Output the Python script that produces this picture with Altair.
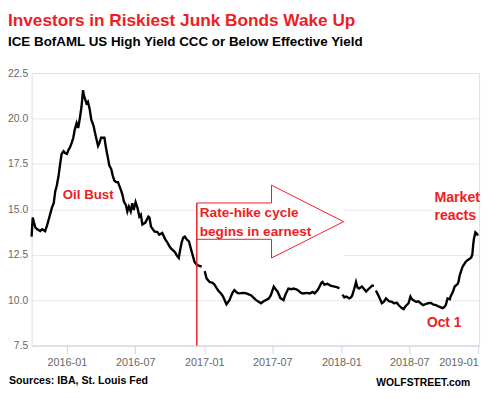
import altair as alt
import pandas as pd

# ---- data (ICE BofAML US HY CCC or Below Effective Yield, %) ----
dates = [
    "2015-09-29", "2015-10-02", "2015-10-05", "2015-10-09", "2015-10-14", "2015-10-22", "2015-10-27",
    "2015-11-04", "2015-11-09", "2015-11-17", "2015-11-22", "2015-11-27", "2015-12-01", "2015-12-05",
    "2015-12-10", "2015-12-14", "2015-12-18", "2015-12-23", "2015-12-27", "2016-01-01", "2016-01-06",
    "2016-01-09", "2016-01-14", "2016-01-18", "2016-01-22", "2016-01-27", "2016-01-31", "2016-02-04",
    "2016-02-09", "2016-02-13", "2016-02-15", "2016-02-18", "2016-02-22", "2016-02-26", "2016-03-02",
    "2016-03-06", "2016-03-12", "2016-03-15", "2016-03-20", "2016-03-24", "2016-03-28", "2016-04-01",
    "2016-04-10", "2016-04-14", "2016-04-19", "2016-04-23", "2016-04-28", "2016-05-02", "2016-05-06",
    "2016-05-11", "2016-05-16", "2016-05-19", "2016-05-24", "2016-05-28", "2016-06-01", "2016-06-06",
    "2016-06-10", "2016-06-14", "2016-06-19", "2016-06-23", "2016-06-27", "2016-07-02", "2016-07-07",
    "2016-07-12", "2016-07-16", "2016-07-20", "2016-07-28", "2016-08-05", "2016-08-08", "2016-08-12",
    "2016-08-21", "2016-08-29", "2016-09-03", "2016-09-11", "2016-09-19", "2016-09-24", "2016-10-02",
    "2016-10-07", "2016-10-15", "2016-10-20", "2016-10-25", "2016-10-29", "2016-11-02", "2016-11-06",
    "2016-11-10", "2016-11-15", "2016-11-21", "2016-11-28", "2016-12-06", "2016-12-12", "2016-12-17",
    "2016-12-25", "2016-12-30", "2017-01-02", "2017-01-07", "2017-01-15", "2017-01-23", "2017-01-28",
    "2017-02-07", "2017-02-15", "2017-02-20", "2017-03-01", "2017-03-09", "2017-03-17", "2017-03-22",
    "2017-03-30", "2017-04-04", "2017-04-15", "2017-04-23", "2017-05-01", "2017-05-06", "2017-05-14",
    "2017-05-19", "2017-05-27", "2017-06-01", "2017-06-09", "2017-06-14", "2017-06-22", "2017-06-27",
    "2017-07-01", "2017-07-05", "2017-07-10", "2017-07-15", "2017-07-23", "2017-07-28", "2017-07-31",
    "2017-08-05", "2017-08-13", "2017-08-21", "2017-08-26", "2017-09-03", "2017-09-08", "2017-09-16",
    "2017-09-21", "2017-10-01", "2017-10-09", "2017-10-17", "2017-10-22", "2017-10-30", "2017-11-04",
    "2017-11-09", "2017-11-12", "2017-11-17", "2017-11-25", "2017-12-03", "2017-12-14", "2017-12-22",
    "2017-12-27", "2017-12-29", "2018-01-04", "2018-01-09", "2018-01-14", "2018-01-22", "2018-01-27",
    "2018-01-30", "2018-02-04", "2018-02-09", "2018-02-13", "2018-02-17", "2018-02-25", "2018-03-03",
    "2018-03-08", "2018-03-16", "2018-03-24", "2018-03-29", "2018-03-31", "2018-04-03", "2018-04-11",
    "2018-04-19", "2018-04-24", "2018-04-30", "2018-05-08", "2018-05-16", "2018-05-21", "2018-05-29",
    "2018-06-03", "2018-06-11", "2018-06-16", "2018-06-21", "2018-06-29", "2018-07-04", "2018-07-08",
    "2018-07-12", "2018-07-20", "2018-07-25", "2018-08-02", "2018-08-07", "2018-08-15", "2018-08-20",
    "2018-08-28", "2018-09-02", "2018-09-10", "2018-09-15", "2018-09-23", "2018-09-28", "2018-10-02",
    "2018-10-06", "2018-10-11", "2018-10-17", "2018-10-19", "2018-10-24", "2018-10-30", "2018-11-07",
    "2018-11-09", "2018-11-12", "2018-11-16", "2018-11-20", "2018-11-28", "2018-12-03", "2018-12-08",
    "2018-12-13", "2018-12-16", "2018-12-18", "2018-12-20", "2018-12-24", "2018-12-28", "2018-12-31",
]
yields = [
    13.5, 14.55, 14.3, 14.0, 13.9, 13.8, 13.9,
    13.8, 14.1, 14.7, 15.08, 15.35, 16.0, 16.3,
    16.87, 17.5, 18.05, 18.2, 18.1, 18.05, 18.3,
    18.4, 18.67, 18.94, 19.39, 19.75, 19.48, 19.94,
    20.66, 21.56, 21.3, 21.1, 20.84, 20.93, 20.48,
    19.94, 19.6, 19.3, 18.85, 18.49, 18.67, 18.94,
    18.94, 18.4, 17.86, 17.41, 17.23, 16.87, 16.6,
    16.5, 16.5, 16.33, 16.06, 15.8, 15.42, 15.24,
    14.88, 15.15, 14.88, 15.33, 14.97, 15.4, 15.08,
    14.6, 14.7, 14.16, 14.27, 14.6, 14.54, 14.05,
    13.78, 13.75, 13.6, 13.7, 13.35, 13.2, 12.9,
    12.8, 12.64, 12.45, 12.32, 12.8, 13.2, 13.45,
    13.5, 13.35, 13.24, 12.7, 12.1, 11.95, 11.9,
    11.84, None, 11.6, 11.2, 11.0, 10.95, 10.86,
    10.53, 10.35, 10.2, 9.77, 10.0, 10.4, 10.55,
    10.4, 10.37, 10.4, 10.37, 10.3, 10.26, 10.1,
    10.0, 9.9, 9.83, 9.95, 10.0, 10.1, 10.26,
    10.5, 10.75, 10.6, 10.48, 10.1, 10.05, 10.0,
    10.3, 10.64, 10.6, 10.64, 10.6, 10.53, 10.4,
    10.37, 10.4, 10.37, 10.45, 10.37, 10.55, 10.75,
    10.95, 11.0, 10.85, 10.9, 10.8, 10.75, 10.7,
    10.64, None, 10.3, 10.15, 10.2, 10.1, 10.15,
    10.26, 10.6, 11.0, 10.7, 10.64, 10.75, 10.6,
    10.48, 10.64, 10.8, 10.8, None, 10.53, 10.2,
    9.83, 9.9, 10.1, 9.94, 9.9, 9.83, 9.85,
    9.72, 9.56, 9.5, 9.67, 9.83, 10.2, 10.05,
    10.0, 9.9, 9.94, 9.8, 9.72, 9.8, 9.83,
    9.85, 9.77, 9.72, 9.67, 9.6, 9.56, 9.62,
    9.72, 10.1, 10.05, 10.2, 10.4, 10.75, 10.9,
    11.0, 11.34, 11.6, 11.84, 12.1, 12.2, 12.26,
    12.35, 12.53, 13.0, 13.35, 13.73, 13.65, 13.55,
]

y_ticks = [7.5, 10.0, 12.5, 15.0, 17.5, 20.0, 22.5]
x_tick_years_months = [(2016, 1), (2016, 7), (2017, 1), (2017, 7), (2018, 1), (2018, 7), (2019, 1)]

# annotation arrow ("Rate-hike cycle begins in earnest")
arrow_dates = ["2016-12-12", "2017-06-29", "2017-06-29", "2018-01-07", "2017-06-29", "2017-06-29", "2016-12-12"]
arrow_vals = [15.35, 15.35, 16.33, 14.32, 12.32, 13.35, 13.35]
hike_date = "2016-12-12"
hike_top = 15.35

# white label backgrounds
bg_start = ["2016-12-12", "2018-08-28"]
bg_end = ["2018-01-07", "2019-01-03"]
bg_low = [12.32, 14.2]
bg_high = [16.33, 16.0]

ann_dates = ["2015-12-21", "2016-12-20", "2016-12-20", "2018-09-06", "2018-09-06", "2018-08-17"]
ann_vals = [15.57, 14.57, 13.54, 15.39, 14.43, 8.53]
ann_text = ["Oil Bust", "Rate-hike cycle", "begins in earnest", "Market", "reacts", "Oct 1"]
ann_size = [13.5, 13.8, 13.8, 14.4, 14.4, 14.0]

RED = "#ee1d23"
FONT = "Liberation Sans"

df = pd.DataFrame({"date": dates, "yield": yields})
arrow_df = pd.DataFrame({"date": arrow_dates, "yield": arrow_vals, "ord": list(range(len(arrow_dates)))})
rule_df = pd.DataFrame({"date": [hike_date], "top": [hike_top], "bottom": [7.5]})
bg_df = pd.DataFrame({"d1": bg_start, "d2": bg_end, "lo": bg_low, "hi": bg_high})
ann_df = pd.DataFrame({"date": ann_dates, "yield": ann_vals, "txt": ann_text, "fs": ann_size})

x_scale = alt.Scale(
    type="utc",
    domain=[alt.DateTime(year=2015, month=9, date=29, utc=True),
            alt.DateTime(year=2019, month=1, date=3, utc=True)],
)
y_scale = alt.Scale(domain=[7.5, 22.5], nice=False, zero=False)

x_axis = alt.Axis(
    values=[alt.DateTime(year=y, month=m, date=1, utc=True) for y, m in x_tick_years_months],
    labelExpr="utcFormat(datum.value, '%Y-%m')", title=None, grid=False,
    domainColor="#ccd6eb", tickColor="#ccd6eb", tickSize=8,
    labelColor="#666666", labelFontSize=11, labelFont=FONT, labelPadding=3,
)
y_axis = alt.Axis(
    values=y_ticks, format=".1f", title=None, domain=False, ticks=False,
    gridColor="#e6e6e6", labelColor="#666666", labelFontSize=10.5, labelFont=FONT,
    labelPadding=4,
)


def X(field):
    return alt.X(field, scale=x_scale, axis=x_axis)


def Y(field):
    return alt.Y(field, scale=y_scale, axis=y_axis)


line = alt.Chart(df).mark_line(color="black", strokeWidth=2.4).encode(
    x=X("date:T"), y=Y("yield:Q"),
)

bg = alt.Chart(bg_df).mark_rect(color="white").encode(
    x=X("d1:T"), x2="d2:T", y=Y("lo:Q"), y2="hi:Q",
)

arrow = alt.Chart(arrow_df).mark_line(color=RED, strokeWidth=1).encode(
    x=X("date:T"), y=Y("yield:Q"), order="ord:Q",
)

rule = alt.Chart(rule_df).mark_rule(color=RED, strokeWidth=1.5).encode(
    x=X("date:T"), y=Y("top:Q"), y2="bottom:Q",
)

ann = alt.Chart(ann_df).mark_text(
    color=RED, font=FONT, fontWeight="bold", align="left", baseline="alphabetic"
).encode(
    x=X("date:T"), y=Y("yield:Q"),
    text="txt:N", size=alt.Size("fs:Q", scale=None, legend=None),
)


def label(txt, x, y, size, color, align="left"):
    return alt.Chart(pd.DataFrame({"t": [txt]})).mark_text(
        font=FONT, fontWeight="bold", fontSize=size, color=color,
        align=align, baseline="alphabetic",
    ).encode(text="t:N", x=alt.value(x), y=alt.value(y))


title = label("Investors in Riskiest Junk Bonds Wake Up", -24, -48, 17.5, RED)
subtitle = label("ICE BofAML US High Yield CCC or Below Effective Yield", -24, -28, 13.6, "black")
source = label("Sources: IBA, St. Louis Fed", -23, 316, 10.8, "black")
brand = label("WOLFSTREET.com", 446, 318, 10.5, "black", align="right")

chart = alt.layer(line, bg, arrow, rule, ann, title, subtitle, source, brand).properties(
    width=455, height=277,
    autosize=alt.AutoSizeParams(type="none"),
    padding={"left": 24, "top": 63, "right": 7, "bottom": 42},
).configure_view(stroke=None).configure(background="white")

chart.save("out.html", embed_options={"renderer": "svg", "actions": False})
